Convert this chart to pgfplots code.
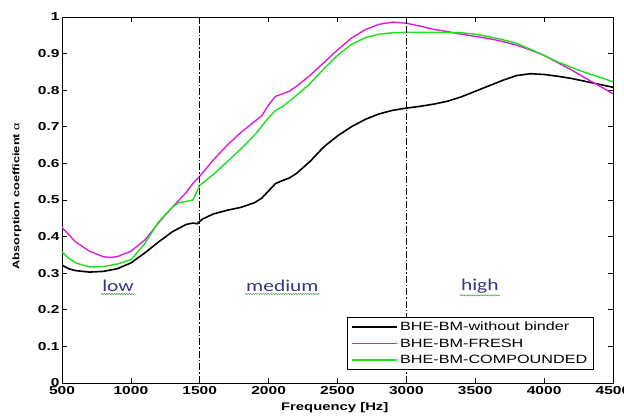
\documentclass[border=0pt]{standalone}
\usepackage{fontspec}
\setmainfont{Liberation Sans}[FakeStretch=1.35]
\newfontfamily\lblfont{Carlito}[FakeStretch=1.3]
\usepackage{pgfplots}
\pgfplotsset{compat=1.18}
\usetikzlibrary{decorations.pathmorphing}

\definecolor{cmag}{RGB}{220,30,220}
\definecolor{cgrn}{RGB}{30,225,30}
\definecolor{lbltxt}{RGB}{55,55,125}
\definecolor{wavy}{RGB}{60,140,60}

% black: without binder
\pgfplotstableread{
x y
500 0.322
550 0.312
600 0.307
700 0.303
800 0.305
900 0.312
1000 0.328
1100 0.355
1200 0.385
1300 0.413
1400 0.433
1450 0.437
1480 0.435
1520 0.448
1600 0.462
1700 0.472
1800 0.480
1900 0.493
1950 0.505
2000 0.525
2050 0.545
2100 0.553
2150 0.560
2200 0.572
2300 0.605
2400 0.645
2500 0.675
2600 0.700
2700 0.720
2800 0.735
2900 0.745
3000 0.751
3100 0.756
3200 0.762
3300 0.770
3400 0.782
3500 0.797
3600 0.812
3700 0.827
3800 0.840
3900 0.845
4000 0.843
4100 0.838
4200 0.832
4300 0.824
4400 0.816
4500 0.808
}\nobinder

% magenta: fresh
\pgfplotstableread{
x y
500 0.425
550 0.405
600 0.385
700 0.360
800 0.345
850 0.343
900 0.345
1000 0.360
1100 0.390
1200 0.437
1300 0.480
1400 0.520
1450 0.545
1500 0.565
1600 0.610
1700 0.650
1800 0.685
1900 0.715
1950 0.730
2000 0.760
2050 0.783
2100 0.790
2150 0.797
2200 0.810
2300 0.840
2400 0.875
2500 0.910
2600 0.942
2700 0.965
2800 0.980
2900 0.986
3000 0.983
3100 0.975
3200 0.966
3300 0.960
3400 0.953
3500 0.947
3600 0.941
3700 0.933
3800 0.923
3900 0.910
4000 0.895
4100 0.875
4200 0.855
4300 0.833
4400 0.812
4500 0.790
}\fresh

% green: compounded
\pgfplotstableread{
x y
500 0.358
550 0.340
600 0.328
700 0.317
800 0.318
900 0.325
1000 0.337
1100 0.380
1200 0.440
1300 0.480
1350 0.493
1400 0.496
1450 0.500
1500 0.540
1600 0.570
1700 0.605
1800 0.640
1900 0.678
2000 0.725
2050 0.745
2100 0.755
2200 0.785
2300 0.818
2400 0.858
2500 0.895
2600 0.925
2700 0.943
2800 0.953
2900 0.957
3000 0.958
3200 0.958
3400 0.957
3500 0.953
3600 0.946
3700 0.938
3800 0.928
3900 0.912
4000 0.895
4100 0.877
4200 0.862
4300 0.848
4400 0.836
4500 0.823
}\compounded

\tikzset{wavyline/.style={wavy, line width=0.5pt, decorate, decoration={snake, amplitude=0.6pt, segment length=2.5pt}}}

\begin{document}
\begin{tikzpicture}
\path[use as bounding box] (-62pt,-34pt) rectangle (562pt,383pt);
\begin{axis}[
    scale only axis,
    width=551pt, height=366pt,
    xmin=500, xmax=4500,
    ymin=0, ymax=1,
    xtick={500,1000,1500,2000,2500,3000,3500,4000,4500},
    ytick={0,0.1,0.2,0.3,0.4,0.5,0.6,0.7,0.8,0.9,1},
    tick align=inside,
    tick pos=both,
    major tick length=5pt,
    axis line style={line width=0.9pt},
    tick style={line width=0.7pt, black},
    /pgf/number format/assume math mode=true,
    ticklabel style={font=\fontsize{11.5}{13}\selectfont\bfseries},
    xticklabel style={/pgf/number format/1000 sep={}},
    yticklabel style={/pgf/number format/fixed, /pgf/number format/precision=1, xshift=1pt},
    xlabel={Frequency [Hz]},
    xlabel style={font=\fontsize{11}{13}\selectfont\bfseries, at={(axis description cs:0.495,0)}, anchor=center, yshift=-25pt},
    ylabel={Absorption coefficient \textmd{α}},
    ylabel style={font=\fontsize{9.5}{11}\selectfont\bfseries, at={(axis description cs:-0.0817,0.51)}, anchor=center},
    legend style={at={(axis description cs:0.965,0.036)}, anchor=south east,
        draw=black, line width=0.8pt, font=\fontsize{12}{14}\selectfont,
        inner xsep=4pt, inner ysep=2.5pt, row sep=2.5pt},
    legend cell align=left,
    legend image code/.code={\draw[#1] (0pt,0pt) -- (45pt,0pt);},
]
\addplot[black, line width=1.6pt] table[x=x,y=y] {\nobinder};
\addlegendentry{BHE-BM-without binder}
\addplot[cmag, line width=1.4pt] table[x=x,y=y] {\fresh};
\addlegendentry{BHE-BM-FRESH}
\addplot[cgrn, line width=1.4pt] table[x=x,y=y] {\compounded};
\addlegendentry{BHE-BM-COMPOUNDED}

\draw[black, line width=0.8pt, dash pattern=on 7pt off 2pt on 1.5pt off 2pt] (axis cs:1500,0) -- (axis cs:1500,1);
\draw[black, line width=0.8pt, dash pattern=on 7pt off 2pt on 1.5pt off 2pt] (axis cs:3000,0) -- (axis cs:3000,1);

\node[font=\lblfont\fontsize{16.5}{18}\selectfont, text=lbltxt, inner sep=1pt] (lowlbl) at (axis cs:907,0.265) {low};
\node[font=\lblfont\fontsize{16.5}{18}\selectfont, text=lbltxt, inner sep=1pt] (medlbl) at (axis cs:2100,0.265) {medium};
\node[font=\lblfont\fontsize{16.5}{18}\selectfont, text=lbltxt, inner sep=1pt] (higlbl) at (axis cs:3533,0.265) {high};
\draw[wavyline] ([yshift=-1pt]lowlbl.south west) -- ([yshift=-1pt]lowlbl.south east);
\draw[wavyline] ([yshift=-1pt]medlbl.south west) -- ([yshift=-1pt]medlbl.south east);
\draw[wavyline] ([yshift=-1pt]higlbl.south west) -- ([yshift=-1pt]higlbl.south east);
\end{axis}
\end{tikzpicture}
\end{document}
